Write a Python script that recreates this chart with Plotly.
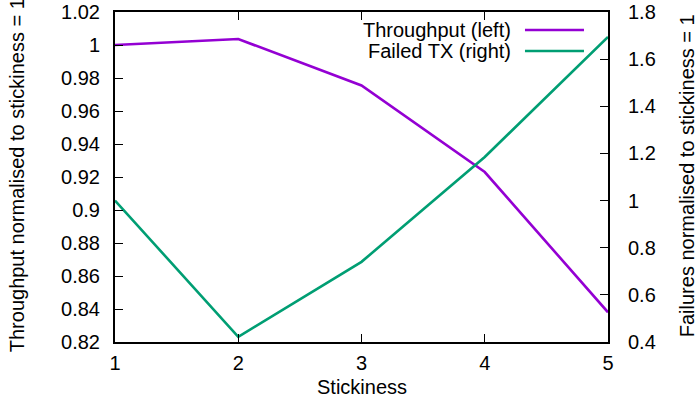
import plotly.graph_objects as go

stickiness = [1, 2, 3, 4, 5]
throughput = [1.0, 1.0036, 0.9755, 0.923, 0.838]
failed_tx = [1.0, 0.422, 0.74, 1.185, 1.694]

left_ticks = [0.82, 0.84, 0.86, 0.88, 0.90, 0.92, 0.94, 0.96, 0.98, 1.00, 1.02]
left_labels = ["0.82", "0.84", "0.86", "0.88", "0.9", "0.92", "0.94", "0.96", "0.98", "1", "1.02"]
right_ticks = [0.4, 0.6, 0.8, 1.0, 1.2, 1.4, 1.6, 1.8]
right_labels = ["0.4", "0.6", "0.8", "1", "1.2", "1.4", "1.6", "1.8"]

PURPLE = "#9400d3"
GREEN = "#009e73"
FONT = "Liberation Sans, Arial, sans-serif"
FS = 20

fig = go.Figure()
fig.add_trace(go.Scatter(x=stickiness, y=throughput, mode="lines", name="Throughput (left)",
                         line=dict(color=PURPLE, width=2.6), yaxis="y", cliponaxis=True))
fig.add_trace(go.Scatter(x=stickiness, y=failed_tx, mode="lines", name="Failed TX (right)",
                         line=dict(color=GREEN, width=2.6), yaxis="y2", cliponaxis=True))

axis_common = dict(showgrid=False, zeroline=False, ticks="inside", ticklen=8, tickwidth=1,
                   tickcolor="black", linecolor="black", linewidth=2, automargin=False,
                   tickfont=dict(family=FONT, size=FS, color="black"))

fig.update_layout(
    width=700, height=409,
    margin=dict(l=115, r=92, t=12, b=67, autoexpand=False),
    paper_bgcolor="white", plot_bgcolor="white",
    showlegend=False,
    font=dict(family=FONT, size=FS, color="black"),
    xaxis=dict(range=[1, 5], tickvals=stickiness, ticktext=[str(v) for v in stickiness],
               showline=True, mirror="ticks", ticklabelstandoff=2, **axis_common),
    yaxis=dict(range=[0.82, 1.02], tickvals=left_ticks, ticktext=left_labels,
               showline=True, mirror=True, ticklabelstandoff=9, **axis_common),
    yaxis2=dict(range=[0.4, 1.8], tickvals=right_ticks, ticktext=right_labels,
                overlaying="y", side="right", showline=True, ticklabelstandoff=14,
                **axis_common),
)

# axis titles
fig.add_annotation(text="Stickiness", xref="paper", yref="paper", x=0.5, y=-0.135,
                   xanchor="center", yanchor="middle", showarrow=False,
                   font=dict(family=FONT, size=FS, color="black"))
fig.add_annotation(text="Throughput normalised to stickiness = 1", xref="paper", yref="paper",
                   x=-0.199, y=0.505, xanchor="center", yanchor="middle", textangle=-90,
                   showarrow=False, borderpad=0,
                   font=dict(family=FONT, size=FS, color="black"))
fig.add_annotation(text="Failures normalised to stickiness = 1", xref="paper", yref="paper",
                   x=1.160, y=0.505, xanchor="center", yanchor="middle", textangle=-90,
                   showarrow=False, borderpad=0,
                   font=dict(family=FONT, size=FS, color="black"))

# gnuplot-style legend (text then sample line)
names = ["Throughput (left)", "Failed TX (right)"]
colors = [PURPLE, GREEN]
ys = [0.9455, 0.8818]
for n, c, yy in zip(names, colors, ys):
    fig.add_annotation(text=n, xref="paper", yref="paper", x=0.807, y=yy,
                       xanchor="right", yanchor="middle", showarrow=False,
                       font=dict(family=FONT, size=FS, color="black"))
    fig.add_shape(type="line", xref="paper", yref="paper", x0=0.8316, x1=0.9513, y0=yy, y1=yy,
                  line=dict(color=c, width=2.6))

fig.write_html("out.html", config={"displayModeBar": False},
               post_script="document.body.style.margin='0';")
